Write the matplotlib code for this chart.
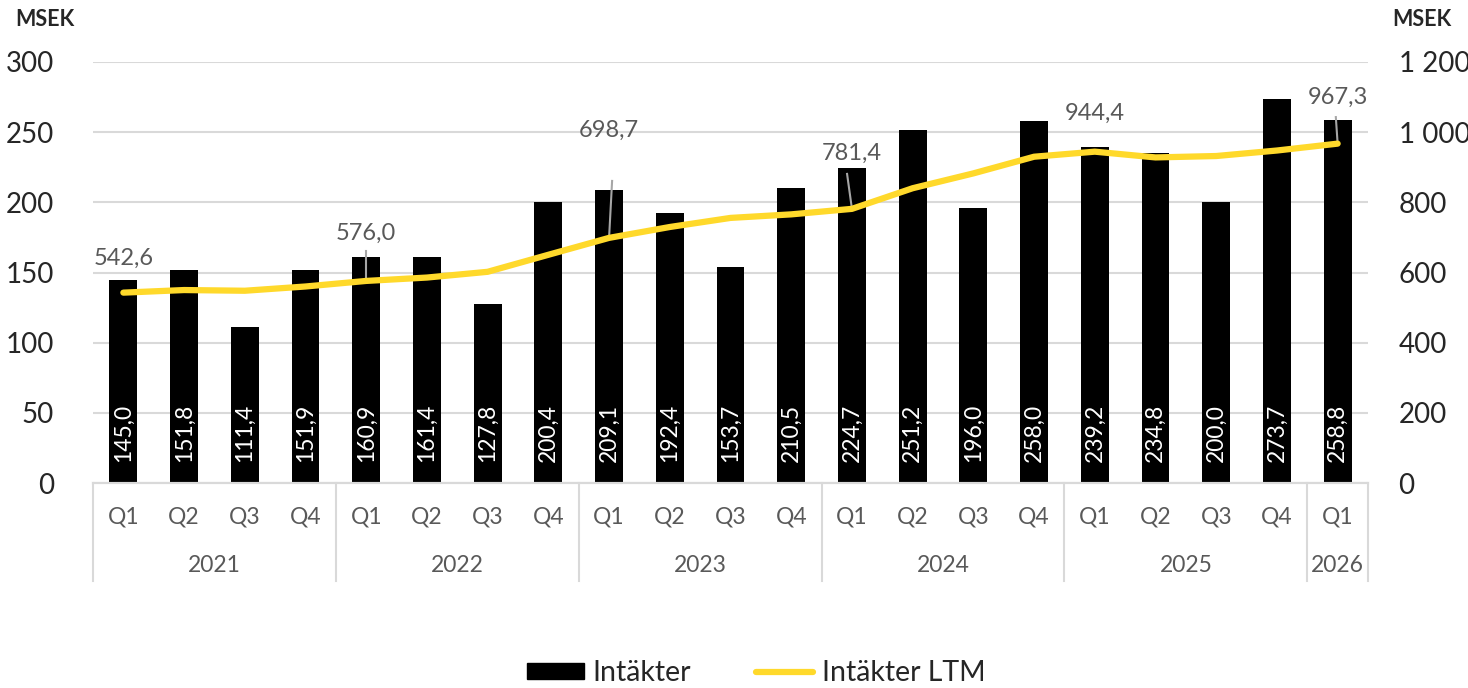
import matplotlib
matplotlib.use("Agg")
import matplotlib.pyplot as plt
from matplotlib.patches import Patch
from matplotlib.lines import Line2D
from matplotlib.ticker import FuncFormatter

plt.rcParams['font.family'] = ['Lato', 'DejaVu Sans']

# ---- data ----
quarters = ["Q1", "Q2", "Q3", "Q4"] * 5 + ["Q1"]
years = ["2021", "2022", "2023", "2024", "2025", "2026"]
year_sizes = [4, 4, 4, 4, 4, 1]
revenue = [145.0, 151.8, 111.4, 151.9,
           160.9, 161.4, 127.8, 200.4,
           209.1, 192.4, 153.7, 210.5,
           224.7, 251.2, 196.0, 258.0,
           239.2, 234.8, 200.0, 273.7,
           258.8]
revenue_ltm = [542.6, 550.0, 548.0, 560.1,
               576.0, 585.6, 602.0, 650.5,
               698.7, 729.7, 755.6, 765.7,
               781.4, 840.2, 882.5, 930.0,
               944.4, 928.0, 932.0, 947.7,
               967.3]
ltm_label_idx = [0, 4, 8, 12, 16, 20]
ltm_label_y = [641, 713, 1006, 941, 1055, 1100]
ltm_leader_top = [None, 661, 861, 881, None, 1043]
ltm_leader_dx = [0, 0, 0.05, -0.08, 0, -0.03]
left_ticks = [0, 50, 100, 150, 200, 250, 300]
right_ticks = [0, 200, 400, 600, 800, 1000, 1200]

def sv(v, dec=1):
    s = f"{v:,.{dec}f}"
    return s.replace(",", " ").replace(".", ",")

W, H = 1468, 688
fig = plt.figure(figsize=(W / 100, H / 100), dpi=100)
ax = fig.add_axes([93 / W, (H - 483) / H, (1368 - 93) / W, (483 - 62) / H])
ax2 = ax.twinx()

x = list(range(len(revenue)))
grid_c = "#d9d9d9"
ax.set_ylim(0, 300)
ax.set_xlim(-0.5, len(revenue) - 0.5)
ax.set_yticks(left_ticks)
ax.yaxis.set_major_formatter(FuncFormatter(lambda v, p: sv(v, 0)))
ax.grid(axis="y", color=grid_c, linewidth=1.5, zorder=0)
ax.set_axisbelow(True)
ax.bar(x, revenue, width=0.46, color="black", zorder=2)
for xi, v in zip(x, revenue):
    ax.annotate(sv(v), (xi, 0), xytext=(0, 15), textcoords="offset points",
                rotation=90, ha="center", va="bottom", color="white",
                fontsize=16.5, zorder=3)

ax2.set_ylim(0, 1200)
ax2.set_yticks(right_ticks)
ax2.yaxis.set_major_formatter(FuncFormatter(lambda v, p: sv(v, 0)))
ax2.plot(x, revenue_ltm, color="#FFD92B", linewidth=4.5, solid_joinstyle="round",
         solid_capstyle="round", zorder=5)
for i, ly, lt, dx in zip(ltm_label_idx, ltm_label_y, ltm_leader_top, ltm_leader_dx):
    ax2.text(x[i], ly, sv(revenue_ltm[i]), ha="center", va="center",
             color="#595959", fontsize=17, zorder=6)
    if lt is not None:
        ax2.plot([x[i] + dx, x[i]], [lt, revenue_ltm[i]], color="#a6a6a6",
                 linewidth=1.5, zorder=4)

for a in (ax, ax2):
    for s in ("top", "left", "right"):
        a.spines[s].set_visible(False)
    a.spines["bottom"].set_color(grid_c)
    a.spines["bottom"].set_linewidth(1.5)
    a.tick_params(axis="y", length=0, labelsize=20, labelcolor="#262626")
    a.set_xticks([])
ax.tick_params(axis="y", pad=28)
ax2.tick_params(axis="y", pad=22)
ax2.set_zorder(ax.get_zorder() + 1)
ax2.patch.set_visible(False)

# category axis
tr = ax.get_xaxis_transform()
q_y = (483 - 517) / (483 - 62)
y_y = (483 - 565) / (483 - 62)
line_bot = (483 - 581) / (483 - 62)
for xi, q in zip(x, quarters):
    ax.text(xi, q_y, q, transform=tr, ha="center", va="center",
            fontsize=16.5, color="#595959", clip_on=False)
start = -0.5
bounds = [start]
for yr, n in zip(years, year_sizes):
    end = start + n
    ax.text((start + end) / 2, y_y, yr, transform=tr, ha="center", va="center",
            fontsize=16.5, color="#595959", clip_on=False)
    start = end
    bounds.append(end)
for b in bounds:
    ax.plot([b, b], [0, line_bot], transform=tr, color=grid_c, linewidth=1.5,
            clip_on=False)

fig.text(15 / W, 1 - 20 / H, "MSEK", fontsize=15.5, fontweight="bold",
         ha="left", va="center", color="#262626")
fig.text(1392 / W, 1 - 20 / H, "MSEK", fontsize=15.5, fontweight="bold",
         ha="left", va="center", color="#262626")

handles = [Patch(facecolor="black", edgecolor="black", label="Intäkter"),
           Line2D([0], [0], color="#FFD92B", linewidth=4.5, solid_capstyle="round",
                  label="Intäkter LTM")]
fig.legend(handles=handles, loc="center", bbox_to_anchor=(0.515, 1 - 673 / H),
           ncol=2, frameon=False, fontsize=20.5, handlelength=2.0,
           handleheight=0.45, handletextpad=0.3, columnspacing=2.3,
           labelcolor="#262626")

fig.savefig("out.png", dpi=100)
